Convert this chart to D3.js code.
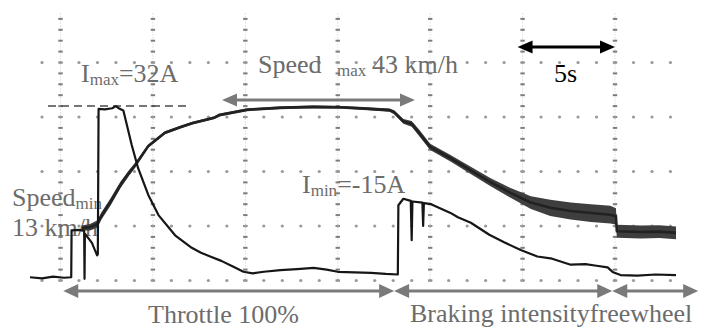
<!DOCTYPE html>
<html>
<head>
<meta charset="utf-8">
<script src="https://cdn.jsdelivr.net/npm/d3@7"></script>
<style>
  html, body { margin: 0; padding: 0; background: #fff; }
  svg { display: block; }
</style>
</head>
<body>
<svg id="chart" width="707" height="328"></svg>
<script>
// Motor current (A); braking current is negative, the scope shows its magnitude
const currentTime = [-1.65, -1.0, -0.4, 0.2, 0.58, 0.6, 1.0, 1.28, 1.3, 1.32, 1.7, 1.98, 2.02, 2.06,
  2.4, 2.8, 3.0, 3.2, 3.4, 3.5, 3.85, 4.2, 4.75, 5.3, 6.2, 7.1, 7.6, 8.1, 8.7, 9.3, 9.9, 10.4,
  11.0, 11.9, 12.8, 13.7, 14.4, 15.0, 15.9, 16.8, 17.6, 18.25, 18.28, 18.55, 18.95, 19.0, 19.04,
  19.58, 19.62, 19.66, 20.05, 21.1, 21.5, 22.2, 23.2, 24.0, 24.9, 25.8, 26.6, 27.6, 28.4, 29.0,
  29.6, 29.9, 30.3, 31.2, 32.2, 33.3];
const currentAmp = [0.6, 0.4, 0.7, 0.5, 0.6, 9.2, 9.3, 9.1, 0.3, 8.6, 6.9, 4.6, 4.8, 31.5,
  31.4, 31.6, 32, 31.5, 31.2, 29.8, 24.9, 20.6, 15.7, 12.0, 8.3, 6.0, 5.1, 4.4, 3.6, 2.6, 1.6, 1.3,
  1.6, 1.9, 2.1, 2.3, 2.0, 1.6, 1.5, 1.4, 1.2, 1.1, -13.8, -15, -14.6, -7.4, -14.5,
  -14.3, -10.0, -14.2, -14.0, -12.4, -11.6, -10.6, -8.4, -7.0, -5.6, -4.4, -4.0, -2.9, -3.0, -2.7,
  -2.4, -1.5, 1.0, 0.9, 1.1, 1.0];

// Vehicle speed (km/h) and the half-width of its ripple band (km/h)
const speedTime = [1.15, 1.6, 2.0, 2.2, 2.7, 3.25, 3.7, 4.05, 4.75, 5.65, 6.5, 7.15, 8.3, 8.6,
  10.1, 11.9, 13.7, 15.2, 16.4, 17.8, 18.05, 18.55, 19.0, 19.4, 20.0, 21.1, 22.15, 23.25, 24.35,
  25.45, 26.5, 27.6, 28.7, 29.75, 30.05, 30.1, 31.4, 32.4, 33.3];
const speedKmh = [13.0, 13.2, 14.0, 15.9, 19.4, 23.7, 26.6, 28.6, 33.3, 36.6, 38.0, 39.0, 40.3, 41.0,
  42.3, 42.8, 43.0, 42.9, 42.6, 42.2, 41.7, 39.4, 38.8, 36.6, 33.1, 30.3, 27.4, 24.4, 21.7,
  19.3, 18.0, 17.2, 16.7, 16.3, 15.9, 12.2, 12.0, 12.1, 11.8];
const speedSpread = [0.6, 0.8, 0.9, 0.9, 0.9, 0.8, 0.7, 0.6, 0.4, 0.35, 0.35, 0.35, 0.35, 0.35,
  0.35, 0.35, 0.35, 0.35, 0.35, 0.4, 0.5, 0.6, 0.7, 0.8, 0.8, 0.8, 0.9, 1.0, 1.2,
  1.6, 2.0, 2.1, 2.2, 2.2, 2.0, 1.6, 1.6, 1.6, 1.6];

// Operating phases along the time axis
const phaseNames = ["Throttle 100%", "Braking intensity", "freewheel"];
const phaseBounds = [0.15, 18.05, 29.85, 34.5];

// Graticule: 5 s per horizontal division, 10 A per vertical division
const gridTimes = [0, 5, 10, 15, 20, 25, 30];
const gridAmps = [0, 10, 20, 30, 40];
const timeDivision = 5;

const serif = "'Liberation Serif', 'Times New Roman', 'DejaVu Serif', serif";
const svg = d3.select("#chart");
const x = d3.scaleLinear().domain([-1.65, 33.3]).range([30, 676]);
const yI = d3.scaleLinear().domain([0, 50]).range([280.5, 8]);
const yS = d3.scaleLinear().domain([0, 67.5]).range([280.5, 8]);

const gray = "#6c6c6c";
const arrowGray = "#7a7a7a";

// ---- graticule ----
const grid = svg.append("g");
gridTimes.forEach(t => {
  grid.append("line")
    .attr("x1", x(t)).attr("x2", x(t))
    .attr("y1", yI(49)).attr("y2", yI(0))
    .attr("stroke", "#c9c9c9").attr("stroke-width", 1)
    .attr("stroke-dasharray", "1,2");
  grid.selectAll(null).data(d3.range(0, 49, 2)).join("rect")
    .attr("x", x(t) - 2.2).attr("y", d => yI(d) - 1)
    .attr("width", 4.4).attr("height", 2)
    .attr("fill", "#7d7d7d");
});
gridAmps.forEach(a => {
  grid.selectAll(null).data(d3.range(-1, 34, 1)).join("circle")
    .attr("cx", d => x(d)).attr("cy", yI(a))
    .attr("r", 1.6)
    .attr("fill", "#9a9a9a");
});

// ---- labels drawn beneath the traces ----
const imax = d3.max(currentAmp);
const imin = d3.min(currentAmp);
const vmax = d3.max(speedKmh);
const vstart = speedKmh[0];

function label(xp, yp, parts, fill) {
  const t = svg.append("text").attr("x", xp).attr("y", yp)
    .attr("font-family", serif)
    .attr("fill", fill || gray).attr("font-size", 26);
  let shift = 0;
  parts.forEach(p => {
    const s = t.append("tspan").text(p.text);
    if (p.sub) { s.attr("font-size", 17).attr("dy", 3 - shift); shift = 3; }
    else { s.attr("dy", -shift); shift = 0; }
    if (p.x !== undefined) s.attr("x", p.x);
  });
  return t;
}

label(81, 82, [{text: "I"}, {text: "max", sub: true}, {text: "=" + imax + "A"}]);
label(258, 73, [{text: "Speed"}, {text: "max", sub: true, x: 337}, {text: vmax + " km/h", x: 372}]);
label(12, 206, [{text: "Speed"}, {text: "min", sub: true}]);
label(12, 236, [{text: vstart + " km/h"}]);
label(302, 193, [{text: "I"}, {text: "min", sub: true}, {text: "=" + imin + "A"}]);
label(554, 82, [{text: timeDivision + "s"}], "#000");

// Imax reference line
svg.append("line")
  .attr("x1", 48).attr("x2", 190)
  .attr("y1", yI(imax)).attr("y2", yI(imax))
  .attr("stroke", "#4a4a4a").attr("stroke-width", 1.5)
  .attr("stroke-dasharray", "8,5");

// ---- traces ----
const speedPts = speedTime.map((t, i) => ({t, v: speedKmh[i], s: speedSpread[i]}));
svg.append("path")
  .datum(speedPts)
  .attr("d", d3.area().x(d => x(d.t)).y0(d => yS(d.v - d.s)).y1(d => yS(d.v + d.s)))
  .attr("fill", "#3e3e3e");
svg.append("path")
  .datum(speedPts)
  .attr("d", d3.line().x(d => x(d.t)).y(d => yS(d.v)))
  .attr("fill", "none").attr("stroke", "#222").attr("stroke-width", 2.6)
  .attr("stroke-linejoin", "round");

const currentPts = currentTime.map((t, i) => ({t, a: currentAmp[i]}));
svg.append("path")
  .datum(currentPts)
  .attr("d", d3.line().x(d => x(d.t)).y(d => yI(Math.abs(d.a))))
  .attr("fill", "none").attr("stroke", "#161616").attr("stroke-width", 2.2)
  .attr("stroke-linejoin", "round");

// ---- arrows ----
function doubleArrow(x1, x2, y, color, len, half, w) {
  const g = svg.append("g");
  g.append("line").attr("x1", x1 + len - 1).attr("x2", x2 - len + 1)
    .attr("y1", y).attr("y2", y).attr("stroke", color).attr("stroke-width", w);
  g.append("path").attr("d", `M${x1},${y}L${x1 + len},${y - half}L${x1 + len},${y + half}Z`).attr("fill", color);
  g.append("path").attr("d", `M${x2},${y}L${x2 - len},${y - half}L${x2 - len},${y + half}Z`).attr("fill", color);
}

doubleArrow(222, 415, 100, arrowGray, 15, 6.5, 3);
doubleArrow(x(25) - 5, x(30), 47, "#000", 15, 6.5, 3);

phaseNames.forEach((name, i) => {
  doubleArrow(x(phaseBounds[i]), x(phaseBounds[i + 1]), 291, arrowGray, 15, 7, 3);
});

// phase captions
label(148, 323, [{text: phaseNames[0]}]);
label(410, 322, [{text: phaseNames[1] + phaseNames[2]}]);
</script>
</body>
</html>
